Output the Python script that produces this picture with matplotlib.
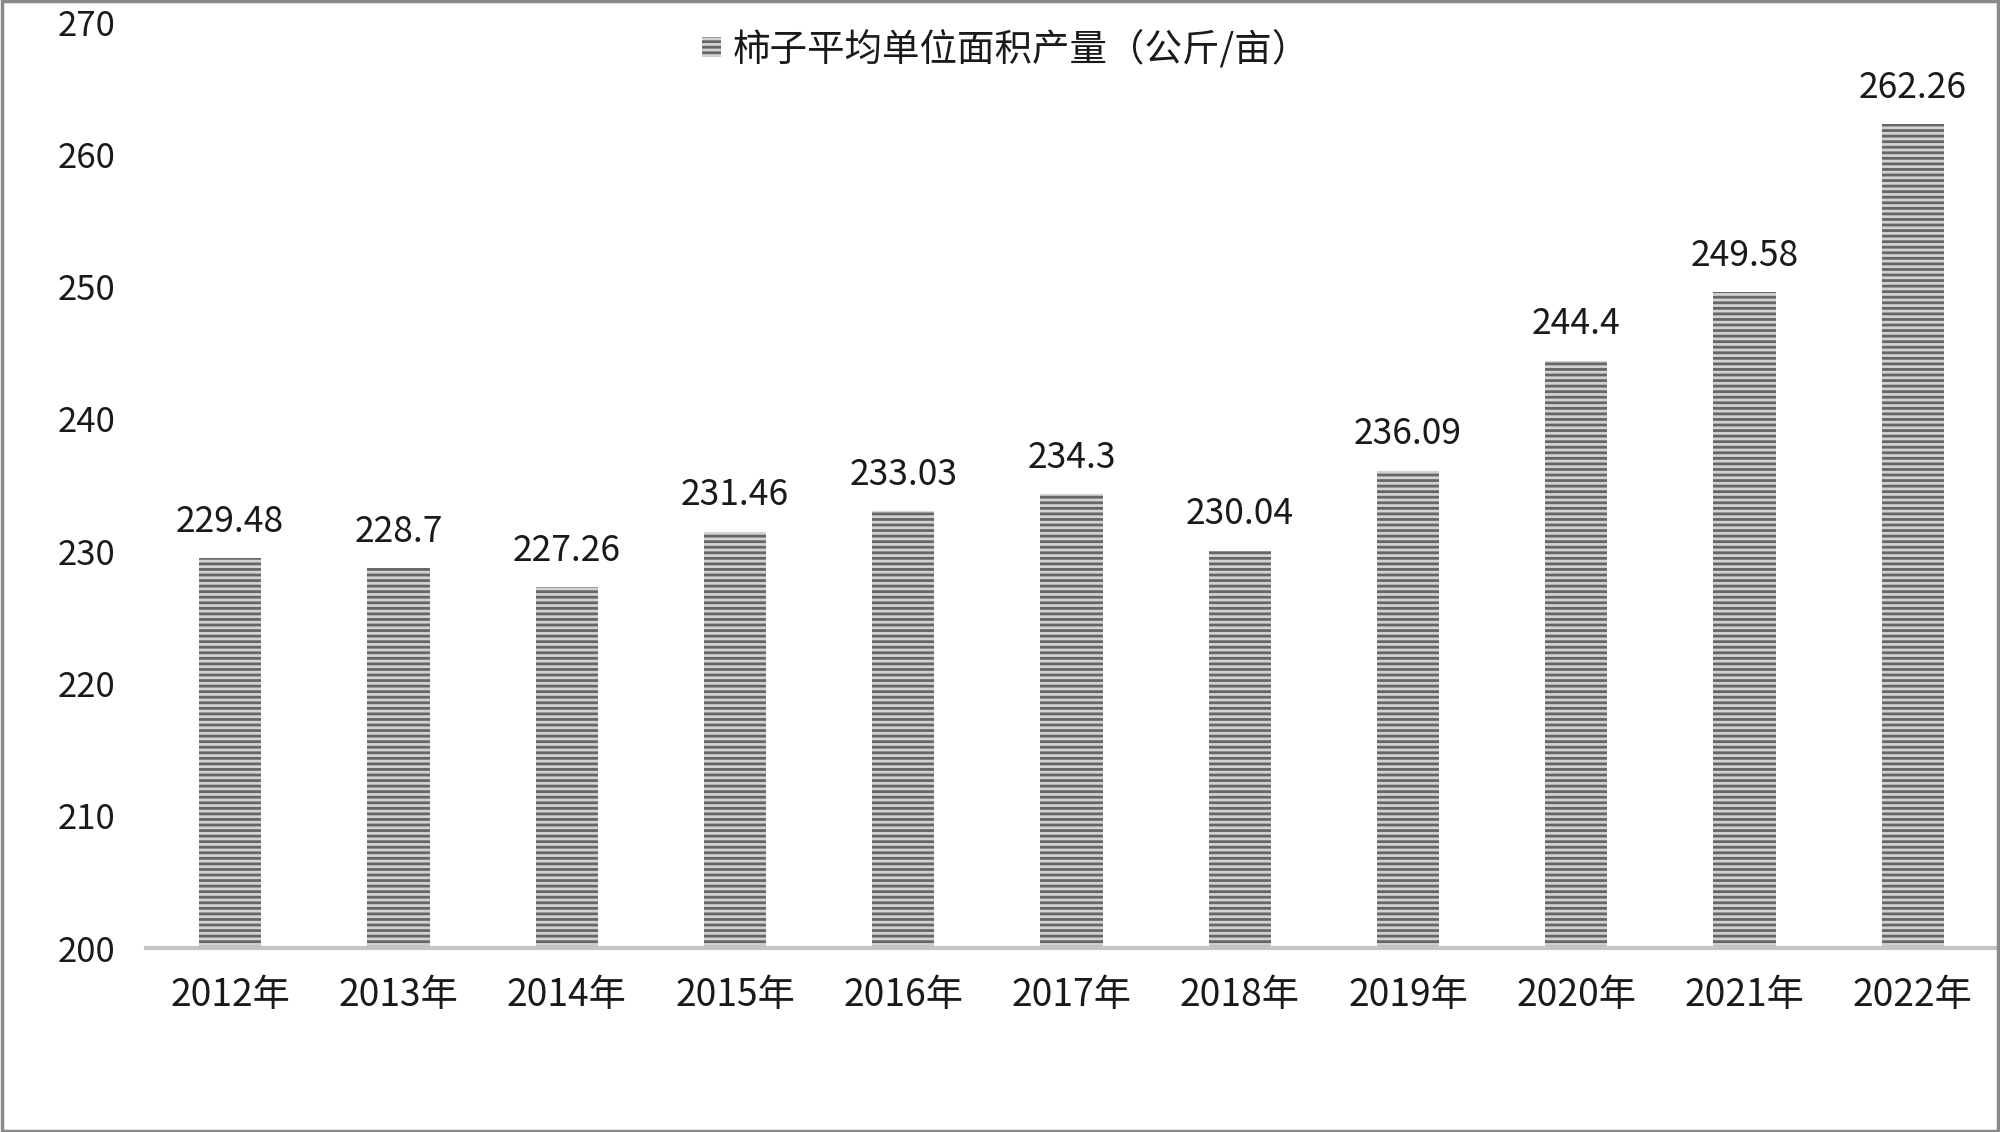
import matplotlib
matplotlib.use("Agg")
import matplotlib.pyplot as plt
import numpy as np

plt.rcParams['font.family'] = ['Noto Sans CJK SC', 'DejaVu Sans']
plt.rcParams['hatch.linewidth'] = 2.0

categories = ['2012年', '2013年', '2014年', '2015年', '2016年', '2017年',
              '2018年', '2019年', '2020年', '2021年', '2022年']
values = [229.48, 228.7, 227.26, 231.46, 233.03, 234.3, 230.04, 236.09, 244.4, 249.58, 262.26]
value_labels = ['229.48', '228.7', '227.26', '231.46', '233.03', '234.3',
                '230.04', '236.09', '244.4', '249.58', '262.26']
series_name = '柿子平均单位面积产量（公斤/亩）'
yticks = [200, 210, 220, 230, 240, 250, 260, 270]

W, H = 2000, 1132
fig = plt.figure(figsize=(W / 100, H / 100), dpi=100)
ax = fig.add_axes([146 / W, (H - 948) / H, (1997 - 146) / W, (948 - 22) / H])

x = np.arange(len(categories))
bars = ax.bar(x, [v - 200 for v in values], bottom=200, width=0.37,
              color='#d2d2d2', edgecolor='#666666', linewidth=0, hatch='---',
              label=series_name)

for xi, v, lab in zip(x, values, value_labels):
    ax.annotate(lab, (xi, v), xytext=(0, 19), textcoords='offset points',
                ha='center', va='baseline', fontsize=25.5, color='#1a1a1a')

ax.set_xlim(-0.5, len(categories) - 0.5)
ax.set_ylim(200, 270)
ax.set_yticks(yticks)
ax.set_yticklabels([str(t) for t in yticks])
ax.set_xticks(x)
ax.set_xticklabels(categories)
ax.tick_params(axis='both', length=0, colors='#1a1a1a')
ax.tick_params(axis='y', pad=22, labelsize=25)
ax.tick_params(axis='x', pad=20, labelsize=26.8)

for s in ['top', 'right', 'left']:
    ax.spines[s].set_visible(False)
ax.spines['bottom'].set_color('#c4c4c4')
ax.spines['bottom'].set_linewidth(3)
ax.patch.set_visible(False)

leg = fig.legend(handles=[bars], labels=[series_name], loc='center',
                 bbox_to_anchor=(0.503, 1 - 50 / H), frameon=False,
                 fontsize=27, handlelength=0.5, handleheight=0.45,
                 handletextpad=0.3)
for t in leg.get_texts():
    t.set_color('#1a1a1a')

border = plt.Rectangle((0.001, 0.001), 0.998, 0.998, transform=fig.transFigure,
                       fill=False, edgecolor='#8a8a8a', linewidth=2.5)
fig.patches.append(border)

fig.savefig('out.png', dpi=100, facecolor='white')
